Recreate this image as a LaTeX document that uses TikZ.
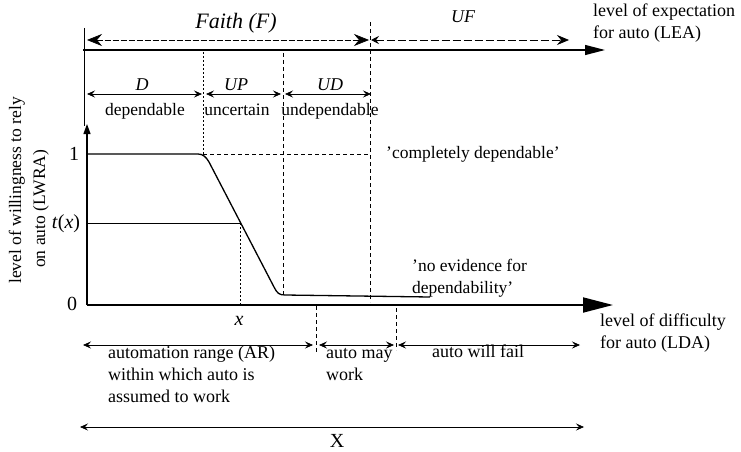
\documentclass[tikz,border=0pt]{standalone}
\usepackage{fontspec}
\setmainfont{Liberation Serif}
\usetikzlibrary{arrows.meta}
\begin{document}
\begin{tikzpicture}[x=1pt,y=-1pt,
  txt/.style={inner sep=0pt,font=\fontsize{17.5}{22}\selectfont},
  bigtxt/.style={inner sep=0pt,font=\fontsize{18}{22}\selectfont},
  ital/.style={inner sep=0pt,font=\fontsize{18}{22}\selectfont\itshape},
  axisline/.style={line width=1.2pt},
  dimarrow/.style={line width=0.7pt,{Stealth[length=8pt,width=7pt,inset=3pt]}-{Stealth[length=8pt,width=7pt,inset=3pt]}},
  faitharrow/.style={line width=0.7pt,dashed,dash pattern=on 6pt off 2pt,{Stealth[length=15pt,width=12pt,inset=5pt]}-{Stealth[length=15pt,width=12pt,inset=5pt]}},
  guide/.style={line width=0.8pt,dash pattern=on 2pt off 2pt},
  guidedash/.style={line width=0.8pt,dash pattern=on 4pt off 3pt},
  curve/.style={line width=1.3pt,line join=round}]
\useasboundingbox (0,0) rectangle (741,452);

% coordinates
\coordinate (O) at (87,305);
\coordinate (Xend) at (613,305);
\coordinate (Ytop) at (87,124);
\coordinate (Tl) at (83,50);
\coordinate (Tr) at (605,50);
\coordinate (Lv0) at (84,28);
\coordinate (Lv1) at (84,126);

% top axis (LEA)
\draw[axisline,-{Triangle[length=20pt,width=10pt]}] (Tl) -- (Tr);
\draw[line width=0.6pt] (Lv0) -- (Lv1);

% Faith / UF arrows
\coordinate (F0) at (87,40);
\coordinate (F1) at (369,40);
\coordinate (U0) at (371,40);
\coordinate (U1) at (569,40);
\draw[faitharrow] (F0) -- (F1);
\draw[line width=0.7pt,dash pattern=on 8pt off 3pt,{Stealth[length=8pt,width=8pt,inset=3pt]}-{Stealth[length=12pt,width=10pt,inset=4pt]}] (U0) -- (U1);
\node[inner sep=0pt,font=\fontsize{22}{26}\selectfont\itshape,anchor=base] (faith) at (236,29) {Faith (F)};
\node[ital,anchor=base] (uf) at (463,23) {UF};
\node[bigtxt,anchor=base west,align=left] (lea) at (593,39) {level of expectation\\for auto (LEA)};

% region boundaries
\coordinate (Va0) at (203,52);
\coordinate (Va1) at (203,154);
\coordinate (Vb0) at (283,53);
\coordinate (Vb1) at (283,295);
\coordinate (Vc0) at (370,22);
\coordinate (Vc1) at (370,302);
\draw[guide] (Va0) -- (Va1);
\draw[guidedash] (Vb0) -- (Vb1);
\draw[guidedash] (Vc0) -- (Vc1);

% D / UP / UD arrows
\coordinate (D0) at (87,94);
\coordinate (D1) at (202,94);
\coordinate (P0) at (206,94);
\coordinate (P1) at (281,94);
\coordinate (Q0) at (285,94);
\coordinate (Q1) at (371,94);
\draw[dimarrow] (D0) -- (D1);
\draw[dimarrow] (P0) -- (P1);
\draw[dimarrow] (Q0) -- (Q1);
\node[ital,anchor=base] (dlab) at (142,90) {D};
\node[ital,anchor=base] (uplab) at (236,90) {UP};
\node[ital,anchor=base] (udlab) at (330,90) {UD};
\node[txt,anchor=base] (dep) at (145,115) {dependable};
\node[txt,anchor=base] (unc) at (237,115) {uncertain};
\node[txt,anchor=base] (undep) at (330,115) {undependable};

% y axis
\draw[axisline,-{Triangle[length=10pt,width=7pt]}] (O) -- (Ytop);
\node[txt,rotate=90,anchor=base west] (ylab1) at (21,284) {level of willingness to rely};
\node[txt,rotate=90,anchor=base west] (ylab2) at (45,268) {on auto (LWRA)};
\node[inner sep=0pt,font=\fontsize{20}{22}\selectfont,anchor=base] (one) at (74,160) {1};
\node[inner sep=0pt,font=\fontsize{20}{22}\selectfont,anchor=base] (zero) at (72,310) {0};
\node[inner sep=0pt,font=\fontsize{20}{22}\selectfont,anchor=base] (tx) at (66,228) {\textit{t}(\textit{x})};

% x axis
\draw[line width=1.8pt,-{Triangle[length=30pt,width=15pt]}] (O) -- (Xend);
\node[bigtxt,anchor=base west,align=left] (lda) at (600,348) {level of difficulty\\for auto (LDA)};

% curve
\coordinate (C0) at (87,154);
\coordinate (C1) at (198,154);
\coordinate (C2) at (209,162);
\coordinate (C3) at (274,287);
\coordinate (C4) at (285,295);
\coordinate (C5) at (430,297);
\draw[curve] (C0) -- (C1) .. controls (203,154) and (206,157) .. (C2) -- (C3) .. controls (277,293) and (279,295) .. (C4) -- (C5);

% level 1 dashed line
\coordinate (H0) at (203,154);
\coordinate (H1) at (370,154);
\draw[guidedash] (H0) -- (H1);
\node[txt,anchor=base west] (compl) at (386,158) {'completely dependable'};
\node[txt,anchor=base west,align=left] (noev) at (412,293) {'no evidence for\\dependability'};

% t(x) lines
\coordinate (T0) at (87,223);
\coordinate (T1) at (240,223);
\coordinate (T2) at (240,305);
\draw[line width=0.6pt] (T0) -- (T1);
\draw[guide] (T1) -- (T2);
\node[inner sep=0pt,font=\fontsize{20}{22}\selectfont\itshape,anchor=base] (xlab) at (239,325) {x};

% lower boundaries
\coordinate (L0) at (316,306);
\coordinate (L1) at (316,354);
\coordinate (M0) at (396,308);
\coordinate (M1) at (396,350);
\draw[guidedash] (L0) -- (L1);
\draw[guidedash] (M0) -- (M1);

% lower arrows
\coordinate (A0) at (83,345);
\coordinate (A1) at (313,345);
\coordinate (B0) at (319,345);
\coordinate (B1) at (394,345);
\coordinate (E0) at (398,345);
\coordinate (E1) at (580,345);
\draw[dimarrow] (A0) -- (A1);
\draw[dimarrow] (B0) -- (B1);
\draw[dimarrow] (E0) -- (E1);
\node[bigtxt,anchor=base west,align=left] (ar) at (108,402) {automation range (AR)\\within which auto is\\assumed to work};
\node[bigtxt,anchor=base west,align=left] (may) at (326,380) {auto may\\work};
\node[bigtxt,anchor=base] (fail) at (478,357) {auto will fail};

% X arrow
\coordinate (X0) at (80,427);
\coordinate (X1) at (584,427);
\draw[dimarrow] (X0) -- (X1);
\node[inner sep=0pt,font=\fontsize{20}{22}\selectfont,anchor=base] (bigx) at (337,447) {X};
\end{tikzpicture}
\end{document}
